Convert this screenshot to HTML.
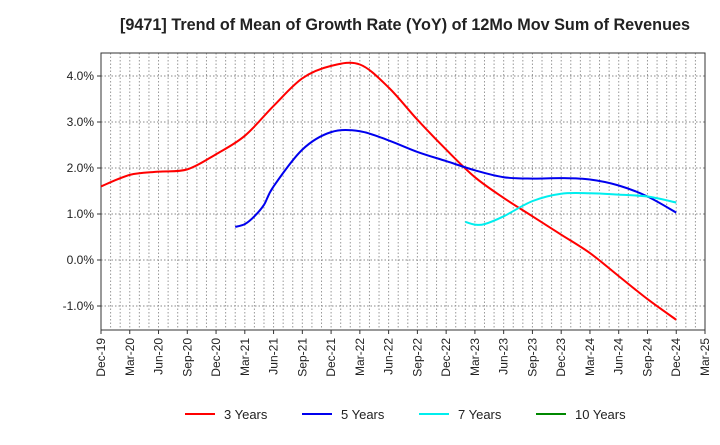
<!DOCTYPE html>
<html><head><meta charset="utf-8"><style>
body{margin:0;background:#fff;font-family:"Liberation Sans",sans-serif;}
svg text{font-family:"Liberation Sans",sans-serif;}
</style></head><body>
<svg id="c" width="720" height="440"></svg>
<script>
const title="[9471]  Trend of Mean of Growth Rate (YoY) of 12Mo Mov Sum of Revenues";
const xTickLabels=["Dec-19","Mar-20","Jun-20","Sep-20","Dec-20","Mar-21","Jun-21","Sep-21","Dec-21","Mar-22","Jun-22","Sep-22","Dec-22","Mar-23","Jun-23","Sep-23","Dec-23","Mar-24","Jun-24","Sep-24","Dec-24","Mar-25"];
const yTicks=[-1,0,1,2,3,4];
const m3=[0,3,6,9,12,15,18,21,24,27,30,33,36,39,42,45,48,51,54,57,60];
const v3=[1.6,1.85,1.92,1.97,2.3,2.7,3.35,3.95,4.22,4.25,3.75,3.05,2.4,1.8,1.35,0.95,0.55,0.15,-0.35,-0.85,-1.3];
const m5=[14,15,16,17,18,21,24,27,30,33,36,39,42,45,48,51,54,57,60];
const v5=[0.72,0.78,0.95,1.2,1.6,2.4,2.78,2.8,2.6,2.35,2.15,1.95,1.8,1.77,1.78,1.75,1.62,1.38,1.03];
const m7=[38,39,40,42,45,48,51,54,57,60];
const v7=[0.83,0.77,0.78,0.95,1.28,1.44,1.45,1.42,1.38,1.25];
const m10=[];const v10=[];
const L=101,R=705,T=53,B=330;
const X=m=>L+m*(R-L)/63;
const Y=v=>260-v*46;
const svg=document.getElementById('c');const NS="http://www.w3.org/2000/svg";
function mk(t,a,p){const e=document.createElementNS(NS,t);for(const k in a)e.setAttribute(k,a[k]);(p||svg).appendChild(e);return e;}
let t=mk('text',{x:405,y:30,'text-anchor':'middle','font-size':16.2,'font-weight':'bold',fill:'#222'});t.textContent=title;


for(let m=1;m<63;m++){const g=mk('line',{x1:X(m),x2:X(m),y1:T,y2:B,stroke:'#999','stroke-dasharray':'1.5,2'});

}
yTicks.forEach(v=>{const g=mk('line',{x1:L,x2:R,y1:Y(v),y2:Y(v),stroke:'#888','stroke-dasharray':'1.5,2'});


const tx=mk('text',{x:L-7,y:Y(v)+4,'text-anchor':'end','font-size':12,fill:'#222'});tx.textContent=v.toFixed(1)+'%';


mk('line',{x1:L-4,x2:L,y1:Y(v),y2:Y(v),stroke:'#333'});});
xTickLabels.forEach((s,i)=>{const x=X(i*3);mk('line',{x1:x,x2:x,y1:B,y2:B+4,stroke:'#333'});
const tx=mk('text',{x:0,y:0,'text-anchor':'end','font-size':12,fill:'#222',transform:`translate(${x+4},${B+8}) rotate(-90)`});tx.textContent=s;

});
const fr=mk('rect',{x:L,y:T,width:R-L,height:B-T,fill:'none',stroke:'#333'});


function path(ms,vs){const p=ms.map((m,i)=>[X(m),Y(vs[i])]);if(p.length<2)return '';let d=`M${p[0][0]},${p[0][1]}`;
for(let i=0;i<p.length-1;i++){const p0=p[i-1]||p[i],p1=p[i],p2=p[i+1],p3=p[i+2]||p2;
d+=`C${p1[0]+(p2[0]-p0[0])/6},${p1[1]+(p2[1]-p0[1])/6} ${p2[0]-(p3[0]-p1[0])/6},${p2[1]-(p3[1]-p1[1])/6} ${p2[0]},${p2[1]}`;}return d;}
[[m3,v3,'#ff0000','series-3-years'],[m5,v5,'#0000ee','series-5-years'],[m7,v7,'#00eeee','series-7-years'],[m10,v10,'#008800','series-10-years']].forEach(s=>{
const d=path(s[0],s[1]);if(!d)return;const e=mk('path',{d:d,fill:'none',stroke:s[2],'stroke-width':2});

});
const leg=[['3 Years','#ff0000',185],['5 Years','#0000ee',302],['7 Years','#00eeee',419],['10 Years','#008800',536]];
leg.forEach(l=>{const g=mk('g',{});


mk('line',{x1:l[2],x2:l[2]+30,y1:414,y2:414,stroke:l[1],'stroke-width':2},g);
const tx=mk('text',{x:l[2]+39,y:419,'font-size':13,fill:'#222'},g);tx.textContent=l[0];});
</script>
</body></html>
